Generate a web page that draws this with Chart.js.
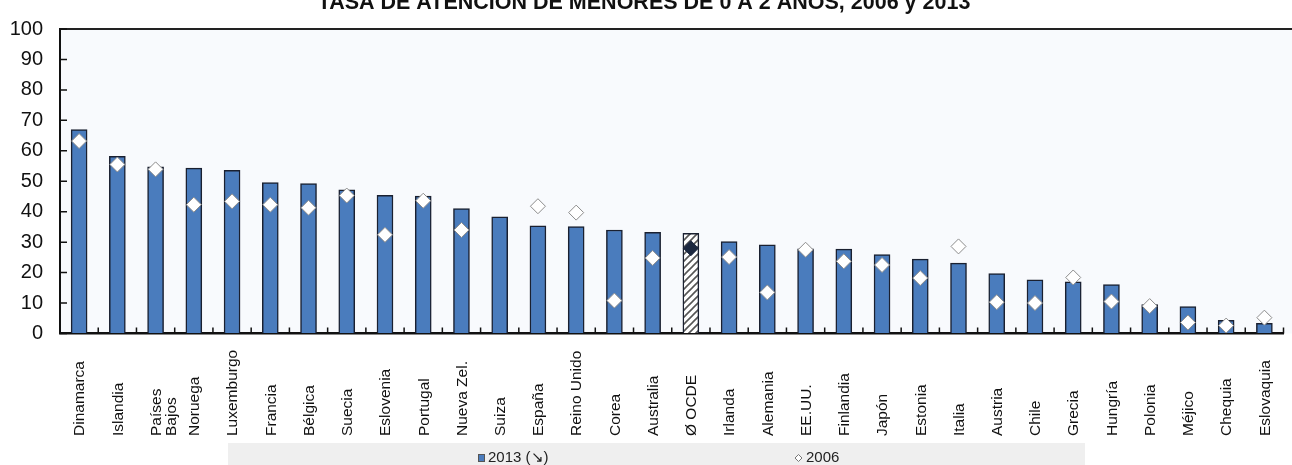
<!DOCTYPE html>
<html>
<head>
<meta charset="utf-8">
<script src="https://cdn.jsdelivr.net/npm/chart.js"></script>
<style>
  html, body { margin: 0; padding: 0; background: #ffffff; }
  #chart { display: block; }
</style>
</head>
<body>
<canvas id="chart" width="1292" height="465"></canvas>
<script>
const TITLE = "TASA DE ATENCIÓN DE MENORES DE 0 A 2 AÑOS, 2006 y 2013";

const categories = [
  "Dinamarca", "Islandia", "Países\nBajos", "Noruega", "Luxemburgo", "Francia", "Bélgica", "Suecia",
  "Eslovenia", "Portugal", "Nueva Zel.", "Suiza", "España", "Reino Unido", "Corea", "Australia",
  "Ø OCDE", "Irlanda", "Alemania", "EE.UU.", "Finlandia", "Japón", "Estonia", "Italia",
  "Austria", "Chile", "Grecia", "Hungría", "Polonia", "Méjico", "Chequia", "Eslovaquia"
];

const rate2013 = [
  67.0, 58.2, 54.7, 54.3, 53.6, 49.6, 49.2, 47.2,
  45.4, 45.1, 41.0, 38.3, 35.4, 35.1, 34.0, 33.2,
  32.9, 30.2, 29.1, 27.8, 27.7, 25.9, 24.4, 23.1,
  19.7, 17.6, 17.0, 16.1, 9.5, 8.8, 4.3, 3.3
];

const rate2006 = [
  63.2, 55.5, 53.9, 42.3, 43.4, 42.3, 41.3, 45.3,
  32.4, 43.6, 34.0, null, 41.8, 39.7, 10.8, 24.8,
  28.0, 25.1, 13.5, 27.5, 23.7, 22.5, 18.2, 28.6,
  10.3, 10.0, 18.4, 10.5, 9.0, 3.6, 2.6, 5.2
];

const yTicks = [0, 10, 20, 30, 40, 50, 60, 70, 80, 90, 100];
const legendLabels = ["2013 (↘)", "2006"];

const BLUE = "#4a7cbd";
const BAR_EDGE = "#1a2030";
const AVG = "Ø OCDE";

// hatched fill for the OECD average bar
function hatch() {
  const c = document.createElement("canvas");
  c.width = 7; c.height = 7;
  const g = c.getContext("2d");
  g.fillStyle = "#ffffff";
  g.fillRect(0, 0, 7, 7);
  g.strokeStyle = "#555555";
  g.lineWidth = 1.6;
  g.beginPath();
  g.moveTo(-1, 8); g.lineTo(8, -1);
  g.moveTo(-1, 1); g.lineTo(1, -1);
  g.moveTo(6, 8); g.lineTo(8, 6);
  g.stroke();
  return g.createPattern(c, "repeat");
}

const ctx = document.getElementById("chart").getContext("2d");
const avgIdx = categories.indexOf(AVG);
const barColors = categories.map((c, i) => i === avgIdx ? hatch() : BLUE);
const pointColors = categories.map((c, i) => i === avgIdx ? "#1c2840" : "#ffffff");
const pointEdges = categories.map((c, i) => i === avgIdx ? "#1c2840" : "#8c8c8c");

const narrow = "'Liberation Sans Narrow', 'Liberation Sans', Arial, sans-serif";
const regular = "'Liberation Sans', Arial, sans-serif";

const decor = {
  id: "decor",
  beforeDraw(chart) {
    const c = chart.ctx, a = chart.chartArea;
    c.save();
    c.fillStyle = "#ffffff";
    c.fillRect(0, 0, chart.width, chart.height);
    c.fillStyle = "#f8fafd";
    c.fillRect(a.left, a.top, chart.width - a.left, a.bottom - a.top);
    c.restore();
  },
  afterDraw(chart) {
    const c = chart.ctx, a = chart.chartArea;
    const xs = chart.scales.x, ys = chart.scales.y;
    c.save();

    // top frame line
    c.strokeStyle = "#222222";
    c.lineWidth = 2;
    c.beginPath();
    c.moveTo(a.left, a.top);
    c.lineTo(chart.width, a.top);
    c.stroke();

    // inner ticks
    c.strokeStyle = "#111111";
    c.lineWidth = 1.5;
    c.beginPath();
    yTicks.forEach(v => {
      const y = ys.getPixelForValue(v);
      c.moveTo(a.left, y);
      c.lineTo(a.left + 7, y);
    });
    for (let i = 0; i < categories.length; i++) {
      const half = (xs.getPixelForValue(1) - xs.getPixelForValue(0)) / 2;
      const x = xs.getPixelForValue(i) + half;
      c.moveTo(x, a.bottom);
      c.lineTo(x, a.bottom - 6);
    }
    c.stroke();

    // category labels, rotated, anchored at the bottom
    c.fillStyle = "#111111";
    c.font = "15.5px " + regular;
    c.textAlign = "left";
    c.textBaseline = "middle";
    categories.forEach((lab, i) => {
      const x = xs.getPixelForValue(i);
      c.save();
      c.translate(x + 1, 436);
      c.rotate(-Math.PI / 2);
      lab.split("\n").forEach((line, j) => c.fillText(line, 0, j * 15));
      c.restore();
    });

    // title (cut at the top edge)
    c.fillStyle = "#111111";
    c.font = "bold 21.5px " + regular;
    c.textAlign = "center";
    c.textBaseline = "alphabetic";
    c.fillText(TITLE, 644, 8.5);

    // legend band
    c.fillStyle = "#efefef";
    c.fillRect(228, 443, 857, 22);
    c.font = "15px " + narrow;
    c.textAlign = "left";
    c.textBaseline = "middle";
    c.fillStyle = BLUE;
    c.fillRect(478, 454, 7, 8);
    c.strokeStyle = "#555555";
    c.lineWidth = 1;
    c.strokeRect(478.5, 454.5, 6, 7);
    c.fillStyle = "#222222";
    c.fillText(legendLabels[0], 488, 458);
    c.strokeStyle = "#777777";
    c.beginPath();
    c.moveTo(798.5, 454.5); c.lineTo(802, 458); c.lineTo(798.5, 461.5); c.lineTo(795, 458); c.closePath();
    c.fillStyle = "#ffffff";
    c.fill();
    c.stroke();
    c.fillStyle = "#222222";
    c.fillText(legendLabels[1], 806, 458);

    c.restore();
  }
};

new Chart(ctx, {
  type: "bar",
  data: {
    labels: categories,
    datasets: [
      {
        type: "line",
        label: legendLabels[1],
        data: rate2006,
        showLine: false,
        pointStyle: "rectRot",
        pointRadius: 7.5,
        pointBackgroundColor: pointColors,
        pointBorderColor: pointEdges,
        pointBorderWidth: 1,
        clip: false,
        order: 0
      },
      {
        type: "bar",
        label: legendLabels[0],
        data: rate2013,
        backgroundColor: barColors,
        borderColor: BAR_EDGE,
        borderWidth: 1.5,
        barThickness: 16,
        order: 1
      }
    ]
  },
  options: {
    responsive: false,
    animation: false,
    layout: { padding: { top: 24, right: 0, left: 0, bottom: 0 } },
    plugins: {
      legend: { display: false },
      title: { display: false },
      tooltip: { enabled: false }
    },
    scales: {
      x: {
        grid: { display: false, drawTicks: false },
        border: { color: "#111111", width: 2.5 },
        ticks: { display: false },
        afterFit: s => { s.height = 131.5; }
      },
      y: {
        min: 0,
        max: 100,
        afterBuildTicks: s => { s.ticks = yTicks.map(v => ({ value: v })); },
        ticks: {
          padding: 17,
          color: "#111111",
          font: { family: narrow, size: 20 }
        },
        grid: { drawOnChartArea: false, drawTicks: false },
        border: { color: "#111111", width: 2 },
        afterFit: s => { s.width = 60; }
      }
    }
  },
  plugins: [decor]
});
</script>
</body>
</html>
